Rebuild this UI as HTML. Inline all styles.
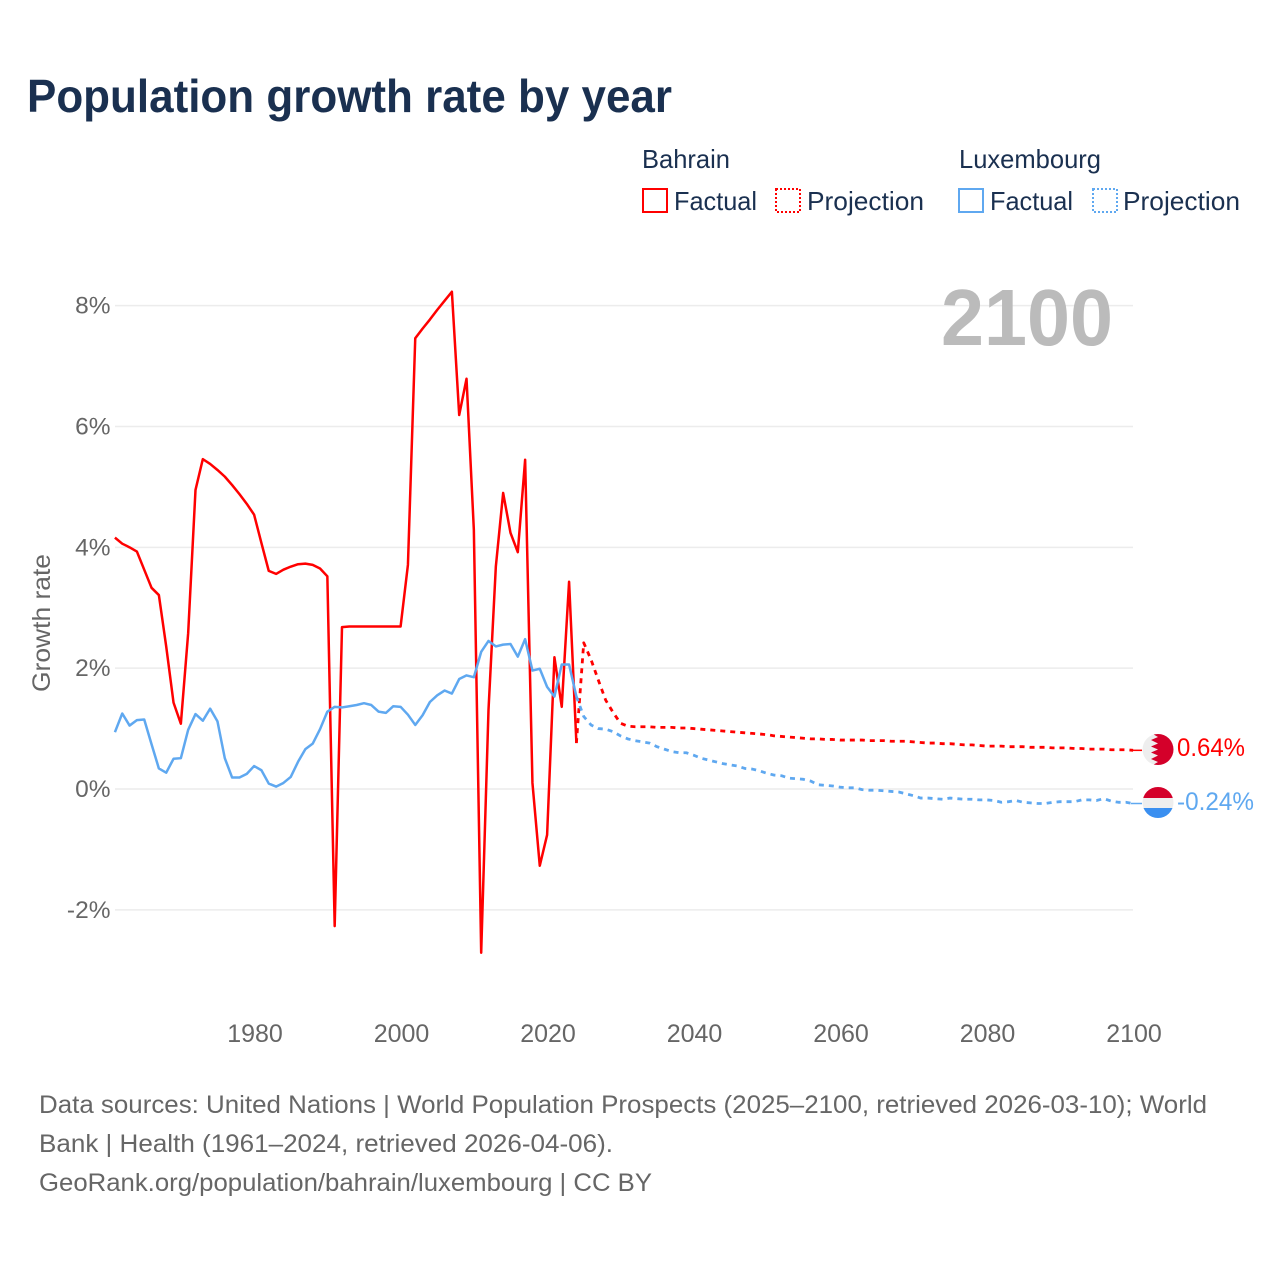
<!DOCTYPE html>
<html lang="en">
<head>
<meta charset="utf-8">
<title>Population growth rate by year</title>
<style>
html,body{margin:0;padding:0;background:#fff;width:1280px;height:1280px;overflow:hidden}
svg{display:block}
text{font-family:"Liberation Sans",sans-serif}
</style>
</head>
<body>
<svg id="chart" xmlns="http://www.w3.org/2000/svg" width="1280" height="1280" viewBox="0 0 1280 1280">
  <rect width="1280" height="1280" fill="#fff"/>
  <text x="27" y="112" font-size="46" font-weight="700" fill="#1a3050" textLength="645" lengthAdjust="spacingAndGlyphs">Population growth rate by year</text>

  <g font-size="26" fill="#1a3050">
    <text x="642" y="168" textLength="88" lengthAdjust="spacingAndGlyphs">Bahrain</text>
    <text x="959" y="168" textLength="142" lengthAdjust="spacingAndGlyphs">Luxembourg</text>
    <g>
      <rect x="643" y="189" width="24" height="23" fill="none" stroke="#ff0000" stroke-width="2"/>
      <text x="674" y="210" textLength="83" lengthAdjust="spacingAndGlyphs">Factual</text>
    </g>
    <g>
      <rect x="776" y="189" width="24" height="23" fill="none" stroke="#ff0000" stroke-width="2" stroke-dasharray="2 2"/>
      <text x="807" y="210" textLength="117" lengthAdjust="spacingAndGlyphs">Projection</text>
    </g>
    <g>
      <rect x="959" y="189" width="24" height="23" fill="none" stroke="#5fa8f0" stroke-width="2"/>
      <text x="990" y="210" textLength="83" lengthAdjust="spacingAndGlyphs">Factual</text>
    </g>
    <g>
      <rect x="1093" y="189" width="24" height="23" fill="none" stroke="#5fa8f0" stroke-width="2" stroke-dasharray="2 2"/>
      <text x="1123" y="210" textLength="117" lengthAdjust="spacingAndGlyphs">Projection</text>
    </g>
  </g>

  <g id="grid"></g>
  <g id="yticks" font-size="24.5" fill="#666"></g>
  <g id="xticks" font-size="25" fill="#666"></g>
  <text transform="translate(50,623) rotate(-90)" text-anchor="middle" font-size="25" fill="#666" textLength="138" lengthAdjust="spacingAndGlyphs">Growth rate</text>
  <text x="941" y="345" font-size="80" font-weight="700" fill="#bbbbbb" textLength="172" lengthAdjust="spacingAndGlyphs">2100</text>

  <g id="series" fill="none" stroke-linejoin="round"></g>

  <defs>
    <clipPath id="clip-flag-bh"><circle cx="1158" cy="749.5" r="15.5"/></clipPath>
    <clipPath id="clip-flag-lu"><circle cx="1158" cy="802.5" r="15.5"/></clipPath>
  </defs>
  <g clip-path="url(#clip-flag-bh)">
    <rect x="1142" y="734" width="32" height="32" fill="#eeeeee"/>
    <polygon fill="#d4002a" points="1174,733 1151,733 1158,737 1151,740 1158,743.500 1151,746.500 1158,749.500 1151,752.500 1158,755.500 1151,759 1158,762 1151,766 1174,766"/>
  </g>
  <g clip-path="url(#clip-flag-lu)">
    <rect x="1142" y="787" width="32" height="11" fill="#d4002a"/>
    <rect x="1142" y="798" width="32" height="10" fill="#eeeeee"/>
    <rect x="1142" y="808" width="32" height="11" fill="#3a8ff0"/>
  </g>
  <text x="1177" y="756" font-size="25" fill="#ff0000" textLength="68" lengthAdjust="spacingAndGlyphs">0.64%</text>
  <text x="1177" y="810" font-size="25" fill="#5fa8f0" textLength="77" lengthAdjust="spacingAndGlyphs">-0.24%</text>

  <g font-size="25" fill="#666">
    <text x="39" y="1113" textLength="1168" lengthAdjust="spacingAndGlyphs">Data sources: United Nations | World Population Prospects (2025–2100, retrieved 2026-03-10); World</text>
    <text x="39" y="1152" textLength="574" lengthAdjust="spacingAndGlyphs">Bank | Health (1961–2024, retrieved 2026-04-06).</text>
    <text x="39" y="1191" textLength="613" lengthAdjust="spacingAndGlyphs">GeoRank.org/population/bahrain/luxembourg | CC BY</text>
  </g>
</svg>
<script>
const yTickValues = [8, 6, 4, 2, 0, -2];
const xTickValues = [1980, 2000, 2020, 2040, 2060, 2080, 2100];
const factualStartYear = 1961;
const projectionStartYear = 2024;
const bahrainFactual = [4.16,4.06,4.00,3.93,3.63,3.33,3.21,2.36,1.43,1.08,2.58,4.95,5.46,5.38,5.28,5.17,5.03,4.88,4.72,4.54,4.07,3.61,3.56,3.63,3.68,3.72,3.73,3.71,3.65,3.52,-2.27,2.68,2.69,2.69,2.69,2.69,2.69,2.69,2.69,2.69,3.71,7.46,7.62,7.77,7.93,8.08,8.23,6.19,6.79,4.29,-2.71,1.31,3.68,4.90,4.24,3.92,5.45,0.10,-1.27,-0.76,2.18,1.36,3.43,0.76];
const bahrainProjection = [0.76,2.42,2.14,1.80,1.47,1.27,1.09,1.04,1.03,1.03,1.03,1.02,1.02,1.02,1.01,1.01,1.00,0.99,0.98,0.97,0.96,0.95,0.94,0.93,0.92,0.91,0.90,0.88,0.87,0.86,0.85,0.84,0.83,0.83,0.82,0.82,0.81,0.81,0.81,0.81,0.80,0.80,0.80,0.79,0.79,0.79,0.78,0.77,0.76,0.76,0.75,0.75,0.74,0.73,0.73,0.72,0.71,0.71,0.71,0.70,0.70,0.70,0.69,0.69,0.69,0.68,0.68,0.68,0.67,0.67,0.66,0.66,0.66,0.65,0.65,0.65,0.64];
const luxembourgFactual = [0.94,1.25,1.05,1.14,1.15,0.74,0.34,0.27,0.50,0.51,0.98,1.24,1.13,1.33,1.12,0.51,0.19,0.19,0.25,0.38,0.31,0.09,0.04,0.10,0.20,0.45,0.66,0.75,0.99,1.28,1.36,1.35,1.37,1.39,1.42,1.39,1.28,1.26,1.37,1.36,1.23,1.06,1.22,1.44,1.55,1.63,1.58,1.82,1.88,1.85,2.27,2.45,2.36,2.39,2.40,2.19,2.48,1.96,1.99,1.69,1.53,2.06,2.06,1.53];
const luxembourgProjection = [1.53,1.20,1.06,1.00,0.99,0.95,0.88,0.83,0.80,0.78,0.76,0.70,0.66,0.62,0.60,0.60,0.56,0.51,0.48,0.45,0.42,0.40,0.38,0.34,0.33,0.30,0.26,0.23,0.22,0.18,0.17,0.16,0.13,0.07,0.06,0.05,0.03,0.02,0.02,-0.01,-0.02,-0.02,-0.03,-0.04,-0.05,-0.08,-0.11,-0.15,-0.15,-0.16,-0.17,-0.15,-0.16,-0.17,-0.17,-0.18,-0.18,-0.19,-0.22,-0.21,-0.19,-0.22,-0.23,-0.24,-0.24,-0.22,-0.21,-0.21,-0.21,-0.18,-0.18,-0.19,-0.16,-0.20,-0.22,-0.22,-0.24];

const SVG_NS = 'http://www.w3.org/2000/svg';
function xScale(year) { return 255 + (year - 1980) * 7.325; }
function yScale(value) { return 789 - value * 60.42; }
const lineShift = -0.9;
function linePath(values, startYear) {
  return values.map(function (v, i) {
    return (i ? 'L' : 'M') + (xScale(startYear + i) + lineShift).toFixed(2) + ' ' + yScale(v).toFixed(2);
  }).join('');
}

const gridGroup = document.getElementById('grid');
const yTickGroup = document.getElementById('yticks');
yTickValues.forEach(function (v) {
  const line = document.createElementNS(SVG_NS, 'line');
  
  
  line.setAttribute('x1', 115);
  line.setAttribute('x2', xScale(2100) - 1);
  line.setAttribute('y1', yScale(v));
  line.setAttribute('y2', yScale(v));
  line.setAttribute('stroke', '#ececec');
  line.setAttribute('stroke-width', 1.5);
  gridGroup.appendChild(line);
  const label = document.createElementNS(SVG_NS, 'text');
  
  
  label.setAttribute('x', 110.5);
  label.setAttribute('y', yScale(v) + 8);
  label.setAttribute('text-anchor', 'end');
  label.textContent = v + '%';
  yTickGroup.appendChild(label);
});

const xTickGroup = document.getElementById('xticks');
xTickValues.forEach(function (year) {
  const label = document.createElementNS(SVG_NS, 'text');
  
  
  label.setAttribute('x', xScale(year));
  label.setAttribute('y', 1042);
  label.setAttribute('text-anchor', 'middle');
  label.textContent = year;
  xTickGroup.appendChild(label);
});

const seriesGroup = document.getElementById('series');
function addPath(values, startYear, color, width, dash) {
  const path = document.createElementNS(SVG_NS, 'path');
  path.setAttribute('d', linePath(values, startYear));
  path.setAttribute('stroke', color);
  path.setAttribute('stroke-width', width);
  if (dash) path.setAttribute('stroke-dasharray', dash);
  seriesGroup.appendChild(path);
  return path;
}
function addLeader(value, color) {
  const lead = document.createElementNS(SVG_NS, 'line');
  
  
  lead.setAttribute('x1', xScale(2100) - 3);
  lead.setAttribute('x2', 1142);
  lead.setAttribute('y1', yScale(value));
  lead.setAttribute('y2', yScale(value));
  lead.setAttribute('stroke', color);
  lead.setAttribute('stroke-width', 1.5);
  seriesGroup.appendChild(lead);
}
const bahrainFactualLine = addPath(bahrainFactual, factualStartYear, '#ff0000', 2.5);


const bahrainProjectionLine = addPath(bahrainProjection, projectionStartYear, '#ff0000', 2.8, '5 5');


const luxembourgFactualLine = addPath(luxembourgFactual, factualStartYear, '#5fa8f0', 2.5);


const luxembourgProjectionLine = addPath(luxembourgProjection, projectionStartYear, '#5fa8f0', 2.8, '5 5');


addLeader(bahrainProjection[bahrainProjection.length - 1], '#ff0000');
addLeader(luxembourgProjection[luxembourgProjection.length - 1], '#5fa8f0');
</script>
</body>
</html>
